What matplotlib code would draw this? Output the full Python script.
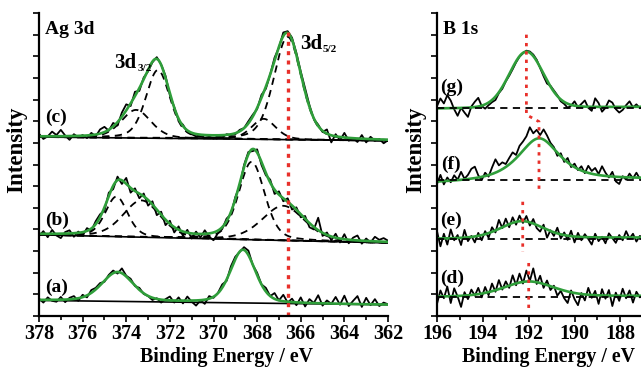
import numpy as np
import matplotlib.pyplot as plt
from matplotlib.ticker import MultipleLocator

plt.rcParams['font.family'] = ['Liberation Serif', 'DejaVu Serif']
plt.rcParams['font.weight'] = 'bold'

# ---- Ag 3d spectra (binding energy grid 378 -> 362 eV, 0.2 eV step)
ag_energy = np.linspace(378, 362, 81)
ag_a = [.80, .62, .86, .70, .66, .88, .64, .84, .92, .70,
        .98, .86, 1.20, 1.30, 1.52, 1.58, 1.90, 2.10, 1.96, 2.20,
        1.86, 1.72, 1.38, 1.30, 1.02, .92, .74, .82, .62, .78,
        .90, .62, .86, .58, .90, .66, .48, .72, .56, .92,
        .84, 1.06, 1.46, 1.62, 2.30, 2.74, 2.96, 3.18, 3.02, 2.36,
        2.00, 1.46, 1.30, .92, 1.06, .72, .98, .62, .80, .50,
        .86, .44, .78, .60, .96, .48, .72, .56, .88, .52,
        .94, .46, .70, .92, .42, .84, .50, .78, .46, .62,
        .54]
ag_b = [3.70, 3.92, 3.64, 3.98, 3.72, 3.60, 3.88, 3.96, 3.66, 3.90,
        3.72, 4.06, 3.94, 4.38, 4.70, 4.86, 5.70, 5.86, 6.44, 6.10,
        6.38, 5.70, 5.90, 5.44, 5.66, 5.10, 5.30, 4.66, 4.82, 4.20,
        4.40, 3.86, 4.14, 3.70, 3.98, 3.58, 3.90, 3.62, 3.96, 3.66,
        3.50, 3.82, 4.02, 4.50, 4.70, 5.50, 6.00, 6.98, 7.58, 7.62,
        7.70, 6.98, 6.50, 6.30, 5.64, 5.76, 5.30, 5.44, 4.92, 5.02,
        4.56, 4.62, 4.10, 4.00, 4.54, 3.70, 3.86, 3.50, 3.80, 3.40,
        3.78, 3.36, 3.62, 3.72, 3.34, 3.58, 3.40, 3.66, 3.52, 3.60,
        3.48]
ag_c = [8.42, 8.18, 8.30, 8.52, 8.36, 8.60, 8.34, 8.14, 8.40, 8.26,
        8.36, 8.22, 8.46, 8.30, 8.62, 8.74, 8.56, 8.92, 8.80, 9.40,
        9.78, 9.70, 10.36, 10.40, 11.02, 11.30, 11.72, 11.96, 11.62, 11.10,
        10.20, 9.66, 9.02, 8.84, 8.50, 8.40, 8.30, 8.36, 8.22, 8.28,
        8.20, 8.30, 8.24, 8.40, 8.36, 8.40, 8.60, 8.68, 9.00, 9.30,
        9.56, 10.22, 10.50, 11.16, 11.94, 12.40, 13.10, 13.16, 12.86, 12.16,
        11.30, 10.52, 9.74, 9.10, 8.84, 8.50, 8.62, 8.02, 8.40, 8.12,
        8.46, 8.10, 8.22, 8.04, 8.36, 8.02, 8.28, 8.10, 8.18, 7.98,
        8.12]

# linear backgrounds: value at 378 eV, value at 362 eV
ag_bg_a = [0.72, 0.52]
ag_bg_b = [3.75, 3.38]
ag_bg_c = [8.27, 8.10]

# fitted components: centre, height, fwhm, lorentz fraction
ag_fit_a = [(374.4, 1.35, 1.7, 0.3), (368.65, 2.45, 1.35, 0.3)]
ag_fit_b = [(374.45, 1.85, 1.2, 0.3), (373.3, 1.7, 2.0, 0.3),
            (368.25, 3.6, 1.4, 0.3), (366.8, 1.6, 2.28, 0.3)]
ag_fit_c = [(372.55, 3.15, 1.3, 0.3), (373.55, 1.3, 1.6, 0.3),
            (366.6, 4.75, 1.5, 0.3), (367.7, 0.95, 1.3, 0.3)]
ag_mark = 366.58

# ---- B 1s spectra (196 -> 187 eV, 0.15 eV step)
bs_energy = np.linspace(196, 187, 61)
bs_d = [0.56, 1.18, 0.82, 1.36, 0.60, 1.28, 0.90, 0.42, 1.10, 0.78,
        1.22, 0.94, 1.30, 0.86, 1.34, 0.96, 1.50, 1.12, 1.66, 1.22,
        1.60, 1.30, 1.88, 1.42, 1.96, 1.50, 2.10, 1.62, 2.20, 1.48,
        1.86, 1.30, 1.64, 1.20, 1.40, 0.94, 1.16, 0.82, 0.60, 1.18,
        0.78, 0.50, 1.06, 0.72, 1.30, 0.84, 1.16, 0.56, 1.24, 0.80,
        1.20, 0.46, 1.08, 0.70, 1.26, 0.82, 1.18, 0.62, 1.12, 0.86,
        1.00]
bs_e = [3.92, 3.22, 3.80, 3.30, 4.00, 3.50, 3.74, 3.28, 3.98, 3.46,
        3.70, 3.40, 3.84, 3.50, 3.92, 3.62, 4.10, 3.86, 4.44, 4.06,
        4.50, 4.10, 4.56, 4.22, 4.64, 4.30, 4.62, 4.18, 4.48, 4.06,
        3.90, 4.22, 3.62, 3.96, 3.70, 4.08, 3.58, 3.86, 3.52, 3.94,
        3.40, 3.84, 3.50, 3.78, 3.56, 3.30, 3.80, 3.46, 3.66, 3.36,
        3.82, 3.60, 3.38, 3.74, 3.50, 3.92, 3.58, 3.80, 3.44, 3.70,
        3.60]
bs_f = [6.10, 6.52, 6.08, 6.40, 6.18, 6.50, 6.30, 6.66, 6.34, 6.52,
        6.80, 6.90, 6.50, 6.28, 6.62, 6.44, 6.86, 7.24, 6.96, 7.10,
        7.02, 7.30, 7.56, 7.44, 7.86, 8.06, 8.30, 8.72, 8.44, 8.60,
        8.36, 8.62, 8.34, 8.00, 7.80, 7.40, 7.52, 7.12, 7.30, 6.88,
        7.04, 6.74, 6.92, 6.60, 6.94, 6.70, 6.84, 6.56, 6.92, 6.62,
        6.40, 6.66, 6.22, 6.10, 6.46, 6.30, 6.58, 6.36, 6.62, 6.34,
        6.48]
bs_g = [9.70, 10.05, 9.82, 10.20, 9.95, 9.55, 9.25, 9.62, 9.40, 9.20,
        9.68, 9.90, 10.08, 9.70, 9.58, 9.74, 9.88, 9.98, 10.30, 10.50,
        10.84, 11.10, 11.40, 11.72, 11.98, 12.14, 12.26, 12.22, 12.08, 11.84,
        11.46, 11.08, 10.74, 10.64, 10.42, 10.20, 9.92, 9.80, 9.62, 9.72,
        9.92, 9.64, 9.80, 9.96, 9.62, 9.48, 10.06, 9.84, 9.44, 9.62,
        9.96, 9.86, 9.56, 9.40, 9.52, 9.74, 9.92, 9.64, 9.78, 9.60,
        9.68]
bs_bg_d = [0.88, 0.92]
bs_bg_e = [3.56, 3.62]
bs_bg_f = [6.12, 6.30]
bs_bg_g = [9.58, 9.66]
bs_fit_d = (192.0, 0.7, 2.6, 0.3)
bs_fit_e = (192.3, 0.8, 2.2, 0.3)
bs_fit_f = (191.55, 2.0, 2.2, 0.8)
bs_fit_g = (192.1, 2.6, 1.76, 0.1)
bs_dash = [0.88, 3.56, 6.30, 9.63]
# peak position guide (NaN = break)
bs_mark_x = [192.1, 192.1, 191.55, 191.55, np.nan, 192.26, 192.26, np.nan, 192.0, 192.0]
bs_mark_y = [13.0, 9.3, 8.98, 5.7, np.nan, 5.28, 2.96, np.nan, 2.45, 0.28]

green = '#2f9e3a'
red = '#e8302a'


def pv(x, c, h, w, eta):
    r = (x - c) / w
    return h * ((1 - eta) * np.exp(-4 * np.log(2) * r ** 2) + eta / (1 + 4 * r ** 2))


def bg(x, ends, x0, x1):
    return ends[0] + (ends[1] - ends[0]) * (x - x0) / (x1 - x0)


def orbital(ax, x, y, main, sub):
    ax.text(x, y, main, fontsize=15, va='center', ha='left')
    ax.annotate(sub, xy=(x, y), xytext=(16.5, -4), textcoords='offset points',
                fontsize=8, va='center', ha='left')


fig = plt.figure(figsize=(6.41, 3.70), dpi=100)
ax1 = fig.add_axes([39 / 641, 54 / 370, 349 / 641, 303 / 370])
ax2 = fig.add_axes([437 / 641, 54 / 370, 204 / 641, 303 / 370])

# Ag 3d panel
xf = np.linspace(378, 362, 500)
for data, ends, comps, dashed in [(ag_a, ag_bg_a, ag_fit_a, False),
                                  (ag_b, ag_bg_b, ag_fit_b, True),
                                  (ag_c, ag_bg_c, ag_fit_c, True)]:
    base = bg(xf, ends, 378, 362)
    ax1.plot([378, 362], ends, color='k', lw=1.2)
    ax1.plot(ag_energy, data, color='k', lw=1.3)
    if dashed:
        for p in comps:
            ax1.plot(xf, base + pv(xf, *p), color='k', lw=1.3, ls=(0, (4, 3)))
    total = base + sum(pv(xf, *p) for p in comps)
    ax1.plot(xf, total, color=green, lw=1.9)
ax1.plot([ag_mark, ag_mark], [0, 13.1], color=red, lw=2.4, ls=(0, (1.2, 1.6)))

ax1.text(377.72, 13.25, 'Ag 3d', fontsize=14, va='center', ha='left')
orbital(ax1, 374.55, 11.7, '3d', '3/2')
orbital(ax1, 366.05, 12.55, '3d', '5/2')
ax1.text(377.72, 9.17, '(c)', fontsize=14, va='center', ha='left')
ax1.text(377.72, 4.44, '(b)', fontsize=14, va='center', ha='left')
ax1.text(377.72, 1.34, '(a)', fontsize=14, va='center', ha='left')

# B 1s panel
xf2 = np.linspace(196, 187, 400)
for data, ends, p in [(bs_d, bs_bg_d, bs_fit_d), (bs_e, bs_bg_e, bs_fit_e),
                      (bs_f, bs_bg_f, bs_fit_f), (bs_g, bs_bg_g, bs_fit_g)]:
    ax2.plot(bs_energy, data, color='k', lw=1.3)
    ax2.plot(xf2, bg(xf2, ends, 196, 187) + pv(xf2, *p), color=green, lw=1.9)
for lev in bs_dash:
    ax2.plot([196, 187], [lev, lev], color='k', lw=1.3, ls=(0, (4, 3)))
ax2.plot(bs_mark_x, bs_mark_y, color=red, lw=2.0, ls=(0, (1.2, 1.8)))

ax2.text(195.74, 13.25, 'B 1s', fontsize=14, va='center', ha='left')
ax2.text(195.87, 10.56, '(g)', fontsize=14, va='center', ha='left')
ax2.text(195.8, 7.0, '(f)', fontsize=14, va='center', ha='left')
ax2.text(195.87, 4.44, '(e)', fontsize=14, va='center', ha='left')
ax2.text(195.87, 1.76, '(d)', fontsize=14, va='center', ha='left')

for ax, lo, hi in [(ax1, 378, 362), (ax2, 196, 187.1)]:
    ax.set_xlim(lo, hi)
    ax.set_ylim(0, 14)
    ax.spines['top'].set_visible(False)
    ax.spines['right'].set_visible(False)
    ax.spines['left'].set_linewidth(1.6)
    ax.spines['bottom'].set_linewidth(1.6)
    ax.xaxis.set_major_locator(MultipleLocator(2))
    ax.xaxis.set_minor_locator(MultipleLocator(1))
    ax.yaxis.set_major_locator(MultipleLocator(1))
    ax.tick_params(axis='both', which='major', direction='out', length=4, width=1.2,
                   labelsize=14.5)
    ax.tick_params(axis='x', which='minor', direction='out', length=3, width=1.2)
    ax.tick_params(axis='y', labelleft=False)
    ax.tick_params(axis='x', pad=2)
    for lab in ax.get_xticklabels():
        lab.set_fontweight('bold')

fig.text(17 / 641, 1 - 150 / 370, 'Intensity', rotation=90, fontsize=16.5,
         ha='center', va='center')
fig.text(416 / 641, 1 - 150 / 370, 'Intensity', rotation=90, fontsize=16.5,
         ha='center', va='center')
fig.text(226 / 641, 1 - 357 / 370, 'Binding Energy / eV', fontsize=14.3,
         ha='center', va='center')
fig.text(548 / 641, 1 - 357 / 370, 'Binding Energy / eV', fontsize=14.3,
         ha='center', va='center')

fig.savefig('out.png', dpi=100)
